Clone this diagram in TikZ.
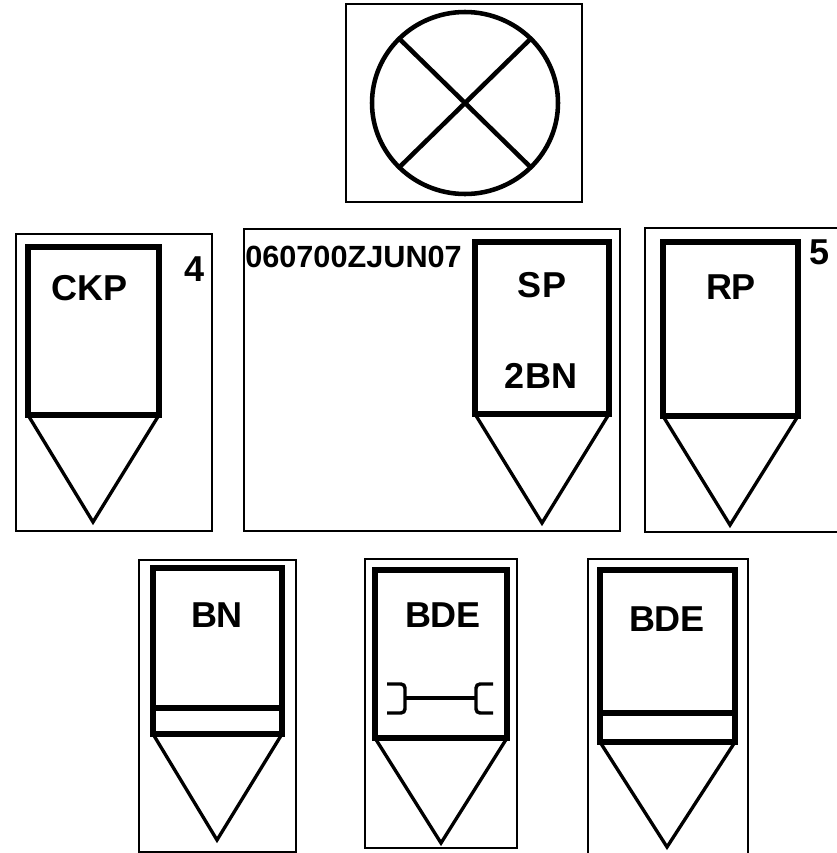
\documentclass[tikz,border=0pt]{standalone}
\usepackage{fontspec}
\setmainfont{Liberation Sans}
\begin{document}
\begin{tikzpicture}[x=0.75pt,y=-0.75pt,
  outerbox/.style={line width=1.3pt},
  symbox/.style={line width=4.4pt, line join=miter},
  pointer/.style={line width=2.5pt, line join=miter},
  circ/.style={line width=3.4pt},
  bracketln/.style={line width=2.6pt},
  lbl/.style={font=\bfseries\fontsize{27}{27}\selectfont, inner sep=0pt},
  datelbl/.style={font=\bfseries\fontsize{23}{23}\selectfont, inner sep=0pt}]
\useasboundingbox (0,0) rectangle (836,853);

% top symbol
\draw[outerbox] (346,4) rectangle (582,202);
\coordinate (c) at (465,103);
\draw[circ] (c) ellipse [x radius=93, y radius=91];
\draw[circ] (c) +(45:93 and 91) -- +(225:93 and 91);
\draw[circ] (c) +(135:93 and 91) -- +(315:93 and 91);

% CKP
\draw[outerbox] (16,234) rectangle (212,531);
\draw[symbox] (28,247) rectangle (159,415);
\draw[pointer] (28,415) -- (93,522) -- (159,415);
\node[lbl] (ckp) at (90,288) {CKP};
\node[lbl] (n4) at (195,269) {4};

% SP
\draw[outerbox] (244,229) rectangle (620,531);
\draw[symbox] (475,242) rectangle (609,414);
\draw[pointer] (475,414) -- (542,523) -- (609,414);
\node[datelbl, anchor=west] (dtg) at (245,257) {060700ZJUN07};
\node[lbl] (sp) at (542,285) {SP};
\node[lbl] (bn2) at (541,376) {2BN};

% RP
\draw[outerbox] (645,228) rectangle (838,532);
\draw[symbox] (663,242) rectangle (798,416);
\draw[pointer] (663,416) -- (730,525) -- (798,416);
\node[lbl] (rp) at (731,287) {RP};
\node[lbl] (n5) at (820,252) {5};

% BN
\draw[outerbox] (139,560) rectangle (296,852);
\draw[symbox] (153,568) rectangle (282,734);
\draw[symbox] (153,708) -- (282,708);
\draw[pointer] (153,734) -- (217,840) -- (282,734);
\node[lbl] (bn) at (217,615) {BN};

% BDE with bracket
\draw[outerbox] (365,559) rectangle (517,848);
\draw[symbox] (375,570) rectangle (507,738);
\draw[pointer] (375,738) -- (441,843) -- (507,738);
\node[lbl] (bdea) at (443,615) {BDE};
\draw[bracketln, rounded corners=3] (387,684) -- (405,684) -- (405,713) -- (387,713);
\draw[bracketln] (405,698) -- (476,698);
\draw[bracketln, rounded corners=3] (493,684) -- (476,684) -- (476,713) -- (493,713);

% BDE with band
\draw[outerbox] (588,559) rectangle (748,856);
\draw[symbox] (600,570) rectangle (735,742);
\draw[symbox] (600,713) -- (735,713);
\draw[pointer] (600,742) -- (667,847) -- (735,742);
\node[lbl] (bdeb) at (667,619) {BDE};
\end{tikzpicture}
\end{document}
